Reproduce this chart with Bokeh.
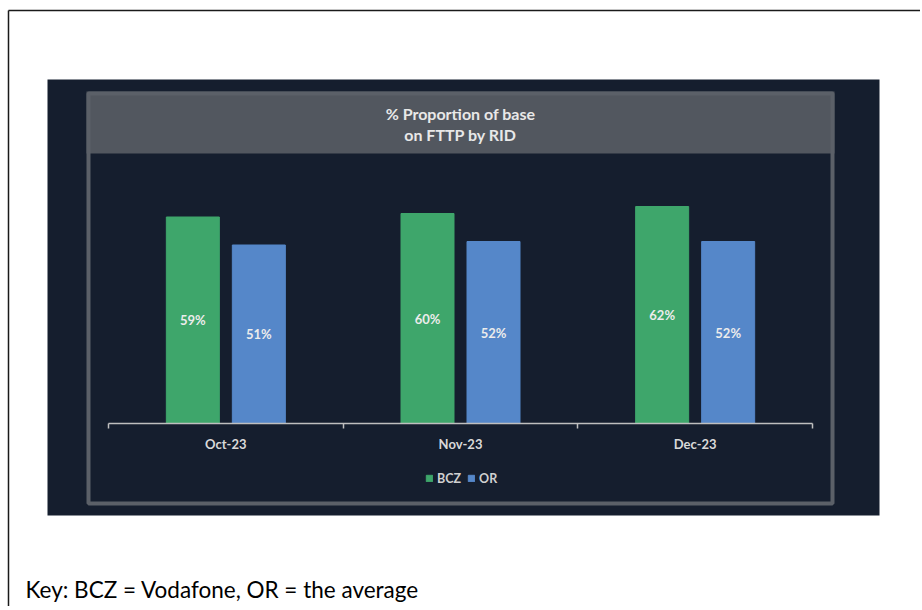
from bokeh.plotting import figure
from bokeh.models import (Range1d, FactorRange, CategoricalAxis, LinearAxis, FixedTicker,
                          Legend, LegendItem, ColumnDataSource)
from bokeh.transform import dodge
from bokeh.core.properties import value
from bokeh.embed import file_html
from bokeh.resources import INLINE

# ---- data ----
months = ["Oct-23", "Nov-23", "Dec-23"]
bcz = [59, 60, 62]
or_avg = [51, 52, 52]
series_names = ["BCZ", "OR"]
title_lines = ["% Proportion of base", "on FTTP by RID"]
key_text = "Key: BCZ = Vodafone, OR = the average"

# ---- layout (canvas pixels) ----
W, H = 920, 606
AX_L, AX_R = 108, 812          # category axis extent
BASE_Y = 423                   # baseline (0 %)
PX_PER_PCT = 3.5
unit = (AX_R - AX_L) / len(months)
PAD = AX_L / unit
OFF = 33 / unit
BAR_W = 53 / unit


def sx(px):
    """canvas pixel -> synthetic categorical coordinate"""
    return px / unit - PAD


PANEL = "#151e2e"
HEADER = "#52575f"
FRAME = "#5b6068"
GREEN = "#3ea66b"
BLUE = "#5587c9"
FONT = "Lato"

src = ColumnDataSource(dict(
    month=months,
    bcz=bcz,
    orv=or_avg,
    bcz_mid=[v / 2 for v in bcz],
    or_mid=[v / 2 for v in or_avg],
    bcz_lbl=[f"{v}%" for v in bcz],
    or_lbl=[f"{v}%" for v in or_avg],
))

cat_range = FactorRange(factors=months, range_padding=PAD, range_padding_units="absolute")

p = figure(width=W, height=H, x_range=cat_range, y_range=Range1d(H, 0),
           output_backend="svg", toolbar_location=None,
           x_axis_location=None, y_axis_location=None, min_border=0,
           outline_line_color=None, background_fill_color="white",
           border_fill_color="white")
p.grid.visible = False
p.extra_y_ranges = {"pct": Range1d(-(H - BASE_Y) / PX_PER_PCT, BASE_Y / PX_PER_PCT)}

# outer page border
p.segment(x0=[sx(8), sx(8)], y0=[10, 10], x1=[sx(W), sx(8)], y1=[10, H],
          line_color="#1a1a1a", line_width=1.5)
# dark panel
p.quad(left=[sx(47)], right=[sx(879)], top=[79], bottom=[515], fill_color=PANEL, line_color=None)
# header band and frame
p.quad(left=[sx(86)], right=[sx(834)], top=[91], bottom=[153], fill_color=HEADER, line_color=None)
p.quad(left=[sx(88)], right=[sx(832)], top=[93], bottom=[503], fill_color=None,
       line_color=FRAME, line_width=4)
p.text(x=[sx(460), sx(460)], y=[113, 134], text=title_lines, text_align="center",
       text_baseline="middle", text_font=value(FONT), text_font_style="bold",
       text_font_size="16px", text_color="#e8e8e8")

# bars
r1 = p.vbar(x=dodge("month", -OFF, range=cat_range), top="bcz", width=BAR_W, bottom=0,
            source=src, y_range_name="pct", fill_color=GREEN, line_color=GREEN)
r2 = p.vbar(x=dodge("month", OFF, range=cat_range), top="orv", width=BAR_W, bottom=0,
            source=src, y_range_name="pct", fill_color=BLUE, line_color=BLUE)
for fld, lbl, off in (("bcz_mid", "bcz_lbl", -OFF), ("or_mid", "or_lbl", OFF)):
    p.text(x=dodge("month", off, range=cat_range), y=fld, text=lbl, source=src,
           y_range_name="pct", text_align="center",
           text_baseline="middle", text_font=value(FONT), text_font_style="bold",
           text_font_size="13px", text_color="#ececec")

# axes
xaxis = CategoricalAxis(y_range_name="pct", fixed_location=0,
                        bounds=(0, len(months)), axis_line_color="#bfbfbf",
                        axis_line_width=1.5, major_tick_line_color=None,
                        major_tick_out=0, major_tick_in=0, minor_tick_line_color=None,
                        major_label_text_font=FONT, major_label_text_font_style="bold",
                        major_label_text_font_size="13px", major_label_text_color="#d9d9d9",
                        major_label_standoff=12)
p.add_layout(xaxis, "below")
tick_axis = LinearAxis(y_range_name="pct", fixed_location=0,
                       ticker=FixedTicker(ticks=list(range(len(months) + 1))),
                       axis_line_color=None, major_tick_in=0, major_tick_out=5,
                       major_tick_line_color="#bfbfbf", major_tick_line_width=1.5,
                       minor_tick_line_color=None, major_label_text_color=None)
p.add_layout(tick_axis, "below")

legend = Legend(items=[LegendItem(label=series_names[0], renderers=[r1]),
                       LegendItem(label=series_names[1], renderers=[r2])],
                location=(425, H - 485.5), orientation="horizontal", glyph_width=8,
                glyph_height=8, label_height=8, label_standoff=4, spacing=6,
                padding=0, margin=0, border_line_color=None, background_fill_alpha=0,
                label_text_font=FONT, label_text_font_style="bold",
                label_text_font_size="12.5px", label_text_color="#d0d0d0")
p.add_layout(legend)

# key note
p.text(x=[sx(25)], y=[589], text=[key_text], text_align="left", text_baseline="alphabetic",
       text_font=value(FONT), text_font_size="22.5px", text_color="black")

open("out.html", "w").write(file_html(p, INLINE))
